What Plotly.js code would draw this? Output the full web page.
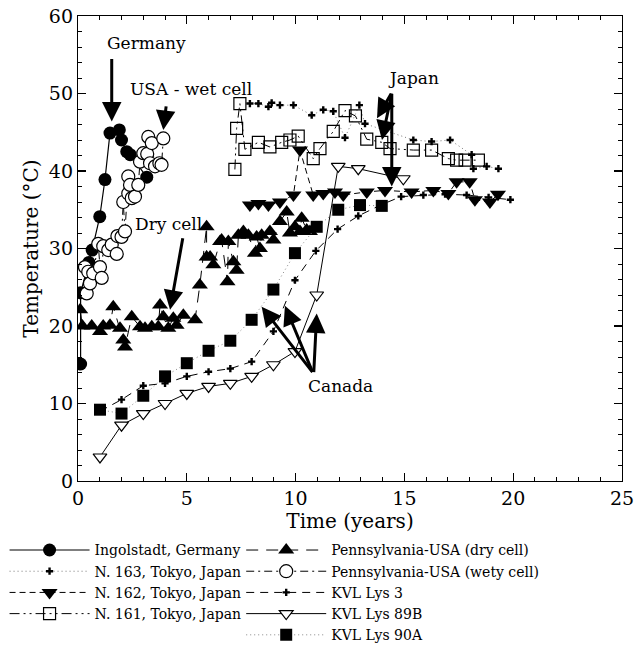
<!DOCTYPE html>
<html>
<head>
<meta charset="utf-8">
<script src="https://cdn.plot.ly/plotly-3.0.1.min.js"></script>
<style>html,body{margin:0;padding:0;background:#fff;}#chart{width:640px;height:647px;}</style>
</head>
<body>
<div id="chart"></div>
<script>
// ---- Data ----
const gerX = [0.12,0.12,0.5,0.65,1.0,1.24,1.47,1.9,2.0,2.24,2.4,3.16];
const gerY = [15.1,24.3,28.2,29.8,34.1,38.9,44.9,45.3,44.0,42.5,42.1,39.2];

const n163X = [7.9,8.29,8.75,8.9,9.28,9.9,10.74,11.27,11.73,12.27,12.93,13.19,15.41,16.25,17.1,18.09,18.17,18.78,19.32];
const n163Y = [48.7,48.7,48.3,48.8,48.5,48.5,47.2,47.9,47.7,44.3,48.5,46.1,44.0,43.8,44.0,42.1,40.3,40.6,40.3];

const n162X = [7.9,8.29,8.75,9.28,9.9,10.2,10.81,11.27,11.81,12.19,13.27,14.11,15.33,16.33,17.02,17.4,18.0,18.24,18.93,19.3];
const n162Y = [35.6,35.8,35.6,36.0,36.9,42.7,36.9,37.1,37.3,36.9,37.3,37.5,37.3,37.5,37.1,38.6,38.6,36.3,36.0,37.0];

const n161X = [7.21,7.29,7.44,7.67,8.29,8.82,9.36,9.74,10.12,10.81,11.12,11.73,12.27,12.75,13.27,13.96,14.34,15.41,16.25,17.02,17.4,17.79,18.4];
const n161Y = [40.2,45.5,48.7,42.8,43.7,43.1,43.7,44.0,44.5,41.6,42.9,45.1,47.8,47.1,44.1,43.7,42.9,42.7,42.7,41.6,41.4,41.4,41.4];

const dryX = [0.1,0.2,0.63,1.01,1.16,1.47,1.62,1.93,2.08,2.16,2.47,2.85,3.08,3.39,3.69,3.77,3.92,4.15,4.38,4.53,4.84,5.38,5.6,5.91,5.91,6.07,6.22,6.53,6.6,6.87,6.91,7.14,7.29,7.37,7.6,7.83,8.13,8.21,8.36,8.44,8.82,8.98,9.28,9.59,9.74,9.97,10.2,10.28,10.51,10.66];
const dryY = [22.1,20.0,20.0,19.3,20.0,20.1,22.5,19.7,18.2,17.3,21.2,19.9,19.7,19.9,19.9,22.7,21.2,19.7,21.0,20.1,21.4,20.8,25.3,32.8,28.9,28.9,27.9,30.9,31.1,25.7,30.9,28.3,27.2,31.7,32.2,31.7,29.4,31.5,30.0,31.7,32.2,31.1,33.5,34.7,32.0,32.8,32.2,33.9,32.4,32.2];

const wetX = [0.32,0.4,0.47,0.55,0.7,0.93,1.01,1.09,1.16,1.39,1.55,1.78,1.81,2.0,2.08,2.16,2.31,2.31,2.39,2.47,2.62,2.77,2.85,3.0,3.18,3.23,3.31,3.39,3.54,3.74,3.84,3.92];
const wetY = [27.6,24.2,27.0,25.5,26.8,30.6,27.6,26.2,30.3,29.8,30.5,29.3,31.6,31.5,36.0,32.2,39.3,37.1,38.2,36.5,36.7,38.2,41.2,42.3,42.2,44.4,41.0,43.6,40.6,41.0,40.8,44.2];

const lys3X = [1.01,2.0,3.0,4.0,5.0,6.0,7.0,7.98,8.98,9.97,10.93,11.93,12.88,13.9,14.85,15.87,16.87,17.86,18.87,19.87];
const lys3Y = [9.0,10.5,12.3,12.6,13.5,14.1,14.5,15.4,19.3,25.9,29.7,32.5,34.2,35.6,36.7,36.9,37.0,36.9,36.6,36.3];

const lys89X = [1.01,2.0,3.0,4.0,5.0,6.0,7.0,7.98,8.98,9.97,10.97,11.96,12.88,14.95];
const lys89Y = [3.1,7.2,8.7,10.0,11.3,12.2,12.6,13.5,15.0,16.7,24.0,40.6,40.3,39.0];

const lys90X = [1.01,2.0,3.0,4.0,5.0,6.0,7.0,7.98,8.98,9.97,10.97,11.96,12.96,13.96];
const lys90Y = [9.2,8.7,11.0,13.5,15.2,16.8,18.1,20.8,24.7,29.4,32.8,35.0,35.6,35.5];

const seriesNames = ["Ingolstadt, Germany","N. 163, Tokyo, Japan","N. 162, Tokyo, Japan","N. 161, Tokyo, Japan",
  "Pennsylvania-USA (dry cell)","Pennsylvania-USA (wety cell)","KVL Lys 3","KVL Lys 89B","KVL Lys 90A"];

const xTicks = [0,5,10,15,20,25];
const yTicks = [0,10,20,30,40,50,60];

// ---- Traces ----
const K = '#000';
function tr(x,y,name,line,marker,legend){
  return {x:x,y:y,name:name,type:'scatter',mode:'lines+markers',line:line,marker:marker,legend:legend,cliponaxis:true};
}
const data = [
  tr(gerX,gerY,seriesNames[0],{color:K,width:1.2},{symbol:'circle',size:13,color:K},'legend'),
  tr(n163X,n163Y,seriesNames[1],{color:'#777',width:1,dash:'1px,3px'},{symbol:'cross',size:6,color:K,line:{width:0}},'legend'),
  tr(n162X,n162Y,seriesNames[2],{color:K,width:1,dash:'6px,4px'},{symbol:'triangle-down',size:14,color:K},'legend'),
  tr(n161X,n161Y,seriesNames[3],{color:K,width:1,dash:'10px,4px,2px,4px,2px,4px'},{symbol:'square-open',size:12,color:K,line:{width:1.2}},'legend'),
  tr(dryX,dryY,seriesNames[4],{color:K,width:1,dash:'12px,8px'},{symbol:'triangle-up',size:14,color:K},'legend2'),
  tr(wetX,wetY,seriesNames[5],{color:K,width:1,dash:'8px,4px,2px,4px'},{symbol:'circle',size:13,color:'#fff',line:{color:K,width:1.2}},'legend2'),
  tr(lys3X,lys3Y,seriesNames[6],{color:K,width:1,dash:'8px,6px'},{symbol:'cross',size:6,color:K,line:{width:0}},'legend2'),
  tr(lys89X,lys89Y,seriesNames[7],{color:K,width:1},{symbol:'triangle-down',size:12,color:'#fff',line:{color:K,width:1.2}},'legend2'),
  tr(lys90X,lys90Y,seriesNames[8],{color:'#888',width:1,dash:'1px,3px'},{symbol:'square',size:12,color:K},'legend2')
];

const F = '"DejaVu Serif", serif';
function arrow(x,y,ax,ay){
  return {x:x,y:y,xref:'x',yref:'y',ax:ax,ay:ay,text:'',showarrow:true,arrowhead:2,arrowsize:1.3,arrowwidth:3,arrowcolor:K};
}
function label(x,y,t){
  return {x:x,y:y,xref:'x',yref:'y',text:t,showarrow:false,font:{family:F,size:17,color:K}};
}
const annotations = [
  label(3.15,56.5,'Germany'),
  arrow(1.55,46.4,0,-64),
  label(5.2,50.6,'USA - wet cell'),
  arrow(3.92,45.3,3,-25),
  label(4.15,33.2,'Dry cell'),
  arrow(4.23,22.1,13,-73),
  label(15.4,52.0,'Japan'),
  arrow(14.42,38.0,0,-94),
  arrow(13.74,46.8,15,-26),
  arrow(13.97,44.0,10,-48),
  label(12.05,12.3,'Canada'),
  arrow(8.44,22.5,52,67),
  arrow(9.51,22.6,28,67),
  arrow(10.97,21.6,-3,60)
];

const axisCommon = {
  showline:true, linecolor:K, linewidth:1.2, mirror:'ticks', ticks:'inside', ticklen:8, tickwidth:1.2, tickcolor:K,
  showgrid:false, zeroline:false, tickfont:{family:F,size:19,color:K},
  minor:{ticks:'inside',ticklen:4,tickwidth:1,tickcolor:K,showgrid:false}
};

const legendCommon = {yref:'container',y:0.174,xanchor:'left',yanchor:'top',orientation:'v',bgcolor:'rgba(0,0,0,0)',
  font:{family:F,size:14,color:K},tracegroupgap:0,itemwidth:80};

const layout = {
  width:640, height:647,
  margin:{l:78,r:18,t:16,b:166},
  paper_bgcolor:'#fff', plot_bgcolor:'#fff',
  font:{family:F,color:K,size:17},
  showlegend:true,
  xaxis:Object.assign({},axisCommon,{range:[0,25],tickvals:xTicks,ticktext:xTicks.map(String),minor:Object.assign({},axisCommon.minor,{dtick:1,tick0:0}),
    title:{text:'Time (years)',font:{family:F,size:20,color:K},standoff:2}}),
  yaxis:Object.assign({},axisCommon,{range:[0,60],tickvals:yTicks,ticktext:yTicks.map(String),minor:Object.assign({},axisCommon.minor,{dtick:2,tick0:0}),
    title:{text:'Temperature (°C)',font:{family:F,size:20,color:K},standoff:4}}),
  legend:Object.assign({},legendCommon,{x:-0.135}),
  legend2:Object.assign({},legendCommon,{x:0.30}),
  annotations:annotations
};

Plotly.newPlot('chart',data,layout,{displayModeBar:false,staticPlot:true});
</script>
</body>
</html>
